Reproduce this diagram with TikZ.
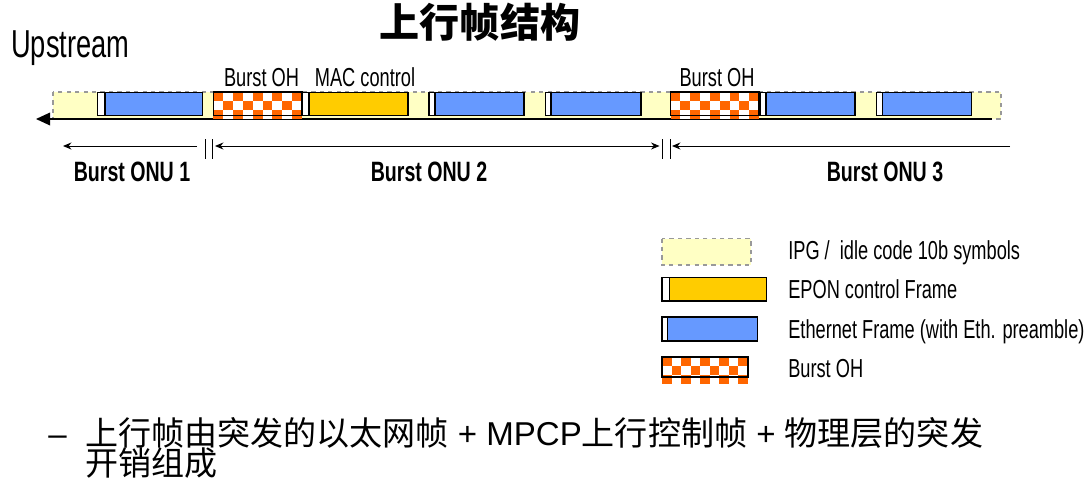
\documentclass[tikz,border=0pt]{standalone}
\usepackage{fontspec}
\setmainfont{Liberation Sans}
\newfontfamily\nar[FakeStretch=0.7]{Liberation Sans}
\newfontfamily\cjk{Noto Sans CJK SC}
\usetikzlibrary{arrows.meta}
\definecolor{idle}{HTML}{FFFFC4}
\definecolor{ethblue}{HTML}{6699FF}
\definecolor{macor}{HTML}{FFCC00}
\definecolor{chk}{HTML}{FF6600}
\definecolor{dashgray}{HTML}{999999}
\tikzset{
  frameline/.style={draw=black, line width=0.9pt},
  idlebox/.style={fill=idle, draw=dashgray, dashed, line width=0.8pt},
  dimline/.style={line width=0.7pt, -{Stealth[length=6pt,width=5pt]}},
  dimtick/.style={line width=0.7pt},
  smalllabel/.style={font=\nar\fontsize{18.5pt}{20pt}\selectfont, inner sep=0pt},
  onulabel/.style={font=\nar\bfseries\fontsize{19.9pt}{21pt}\selectfont, inner sep=0pt},
  legendtext/.style={font=\nar\fontsize{18.5pt}{20pt}\selectfont, inner sep=0pt, anchor=base west},
  bottomtext/.style={font=\fontsize{23.5pt}{25pt}\selectfont, inner sep=0pt, anchor=base west},
}
\newcommand\ethframe[4]{% preamble start, blue start, end, color
  \filldraw[fill=white, frameline] (#1,92.5) rectangle (#2,115.5);
  \filldraw[fill=#4, frameline] (#2,92.5) rectangle (#3,115.5);}
\newcommand\ohblock[5]{% x1 x2 ytop rowh boxbottom
  \fill[white] (#1,#3) rectangle (#2,{#3+3*#4});
  \pgfmathsetmacro\ckw{(#2-#1)/9}
  \foreach \i in {0,...,8}{\foreach \j in {0,1,2}{
    \pgfmathtruncatemacro\ckodd{mod(\i+\j,2)}
    \ifnum\ckodd=0
      \fill[chk] ({#1+\i*\ckw},{#3+\j*#4}) rectangle ({#1+(\i+1)*\ckw},{#3+(\j+1)*#4});
    \fi}}
  \draw[frameline] (#1,#3) rectangle (#2,#5);}
\begin{document}
\begin{tikzpicture}[x=0.025cm, y=-0.025cm]
\useasboundingbox (0,0) rectangle (1089,486);
% title
\node[font=\cjk\bfseries\fontsize{28.5pt}{30pt}\selectfont, inner sep=0pt] (title) at (480,22) {上行帧结构};
\node[font=\nar\fontsize{27.7pt}{29pt}\selectfont, inner sep=0pt, anchor=base west] (upstream) at (11,58) {Upstream};
% strip
\fill[idle] (53,92) rectangle (1001,119);
\draw[dashgray, dashed, line width=0.8pt] (53,92) rectangle (1001,119);
\coordinate (lineR) at (992,119);
\coordinate (lineL) at (36,119);
\draw[line width=1pt, -{Triangle[length=10pt,width=9pt]}] (lineR) -- (lineL);
\ethframe{97.7}{105}{202.7}{ethblue}
\ohblock{213.3}{302}{92}{9}{115.5}
\ethframe{302}{309}{408}{macor}
\ethframe{429}{435}{524}{ethblue}
\ethframe{545.5}{551}{641}{ethblue}
\ohblock{670.5}{759}{92}{9}{115.5}
\ethframe{760}{766}{855}{ethblue}
\ethframe{876.5}{882.3}{971.7}{ethblue}
% labels above
\node[smalllabel, anchor=base] (oh1) at (261.5,86) {Burst OH};
\node[smalllabel, anchor=base] (mac) at (365,86) {MAC control};
\node[smalllabel, anchor=base] (oh2) at (717,86) {Burst OH};
% dimension lines
\coordinate (d1s) at (197,146); \coordinate (d1e) at (63,146);
\coordinate (d2s) at (215,146); \coordinate (d2e) at (659.5,146);
\coordinate (d3s) at (1010,146); \coordinate (d3e) at (672,146);
\draw[dimline] (d1s) -- (d1e);
\draw[dimline, {Stealth[length=6pt,width=5pt]}-{Stealth[length=6pt,width=5pt]}] (d2s) -- (d2e);
\draw[dimline] (d3s) -- (d3e);
\coordinate (t1a) at (205,139); \coordinate (t1b) at (205,159);
\coordinate (t2a) at (212.7,139); \coordinate (t2b) at (212.7,159);
\coordinate (t3a) at (662,139); \coordinate (t3b) at (662,159);
\coordinate (t4a) at (670,139); \coordinate (t4b) at (670,159);
\draw[dimtick] (t1a) -- (t1b);
\draw[dimtick] (t2a) -- (t2b);
\draw[dimtick] (t3a) -- (t3b);
\draw[dimtick] (t4a) -- (t4b);
\node[onulabel, anchor=base] (onu1) at (132,181) {Burst ONU 1};
\node[onulabel, anchor=base] (onu2) at (429,181) {Burst ONU 2};
\node[onulabel, anchor=base] (onu3) at (885,181) {Burst ONU 3};
% legend
\draw[idlebox] (662,238.5) rectangle (751,265);
\filldraw[fill=white, frameline] (662,277.5) rectangle (669.5,301);
\filldraw[fill=macor, frameline] (669.5,277.5) rectangle (766.5,301);
\filldraw[fill=white, frameline] (662,317) rectangle (667.5,341);
\filldraw[fill=ethblue, frameline] (667.5,317) rectangle (757.5,341);
\ohblock{662}{748}{357}{9}{377}
\node[legendtext] (lg1) at (788,259) {IPG /\ \ idle code 10b symbols};
\node[legendtext] (lg2) at (788,298) {EPON control Frame};
\node[legendtext] (lg3) at (788,338) {Ethernet Frame (with Eth. preamble)};
\node[legendtext] (lg4) at (788,377) {Burst OH};
% bottom text
\node[bottomtext] (dash) at (48,445) {–};
\node[bottomtext] (line1) at (85,445)
  {{\cjk 上行帧由突发的以太网帧} + MPCP{\cjk 上行控制帧} + {\cjk 物理层的突发}};
\node[bottomtext] (line2) at (85,475)
  {{\cjk 开销组成}};
\end{tikzpicture}
\end{document}
